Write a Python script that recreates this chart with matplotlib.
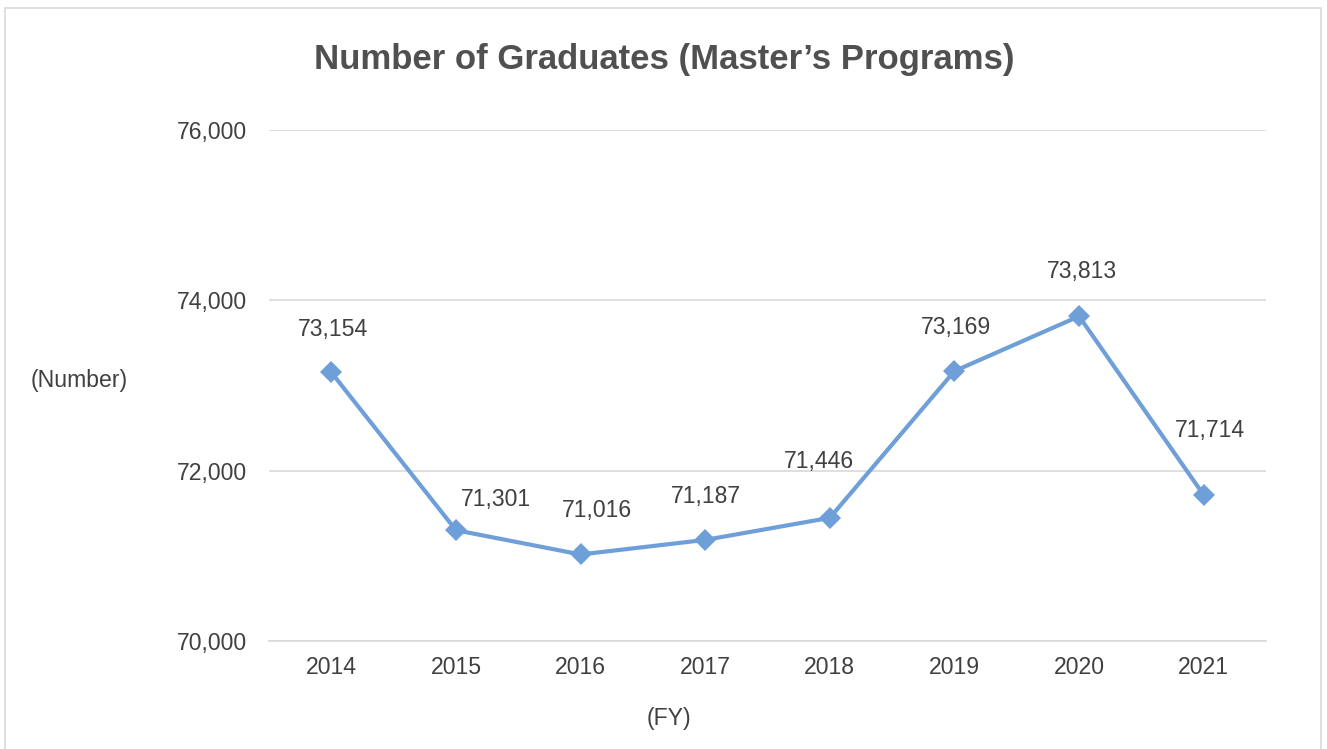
import matplotlib
matplotlib.use("Agg")
import matplotlib.pyplot as plt
from matplotlib.patches import Rectangle

years = ["2014", "2015", "2016", "2017", "2018", "2019", "2020", "2021"]
graduates = [73154, 71301, 71016, 71187, 71446, 73169, 73813, 71714]
y_ticks = [70000, 72000, 74000, 76000]
title = "Number of Graduates (Master\u2019s Programs)"

# label offsets in pixels (dx, dy) relative to the point
label_offsets = [(2, 43), (40, 31), (16, 44), (1, 43), (-11, 56), (2, 44), (3, 45), (6, 65)]

plt.rcParams['font.family'] = ['Liberation Sans', 'DejaVu Sans']
TEXT = "#404040"
LINE = "#6f9fd8"
GRID = "#d9d9d9"
FS = 16.6

fig = plt.figure(figsize=(13.27, 7.49), dpi=100)
ax = fig.add_axes([269/1327, 1-641/749, 997/1327, 511/749])

x = list(range(len(years)))
ax.plot(x, graduates, color=LINE, lw=3, marker='D', ms=11.5, mew=0, zorder=3,
        solid_joinstyle='round')
for xi, v, (dx, dy) in zip(x, graduates, label_offsets):
    ax.annotate(f"{v:,}", (xi, v), xytext=(dx*0.72, dy*0.72), textcoords='offset points',
                ha='center', va='center', fontsize=FS, color=TEXT)

ax.set_xlim(-0.5, len(years)-0.5)
ax.set_ylim(70000, 76000)
ax.set_yticks(y_ticks)
ax.set_yticklabels([f"{t:,}" for t in y_ticks])
ax.set_xticks(x)
ax.set_xticklabels(years)
ax.tick_params(length=0, labelsize=FS, colors=TEXT)
ax.tick_params(axis='y', pad=16)
ax.tick_params(axis='x', pad=11)
ax.grid(axis='y', color=GRID, lw=1.2)
ax.set_axisbelow(True)
for s in ['top', 'right', 'left']:
    ax.spines[s].set_visible(False)
ax.spines['bottom'].set_color(GRID)
ax.spines['bottom'].set_linewidth(1.2)

fig.text(664/1327, 1-59/749, title, ha='center', va='center', fontsize=25,
         fontweight='bold', color="#505050")
fig.text(79/1327, 1-381/749, "(Number)", ha='center', va='center', fontsize=FS, color=TEXT)
fig.text(669/1327, 1-718/749, "(FY)", ha='center', va='center', fontsize=FS, color=TEXT)

fig.patches.append(Rectangle((5/1327, -0.05), 1316/1327, 1.05-8/749, transform=fig.transFigure,
                             fill=False, edgecolor=GRID, lw=1.2))

fig.savefig("out.png", dpi=100)
